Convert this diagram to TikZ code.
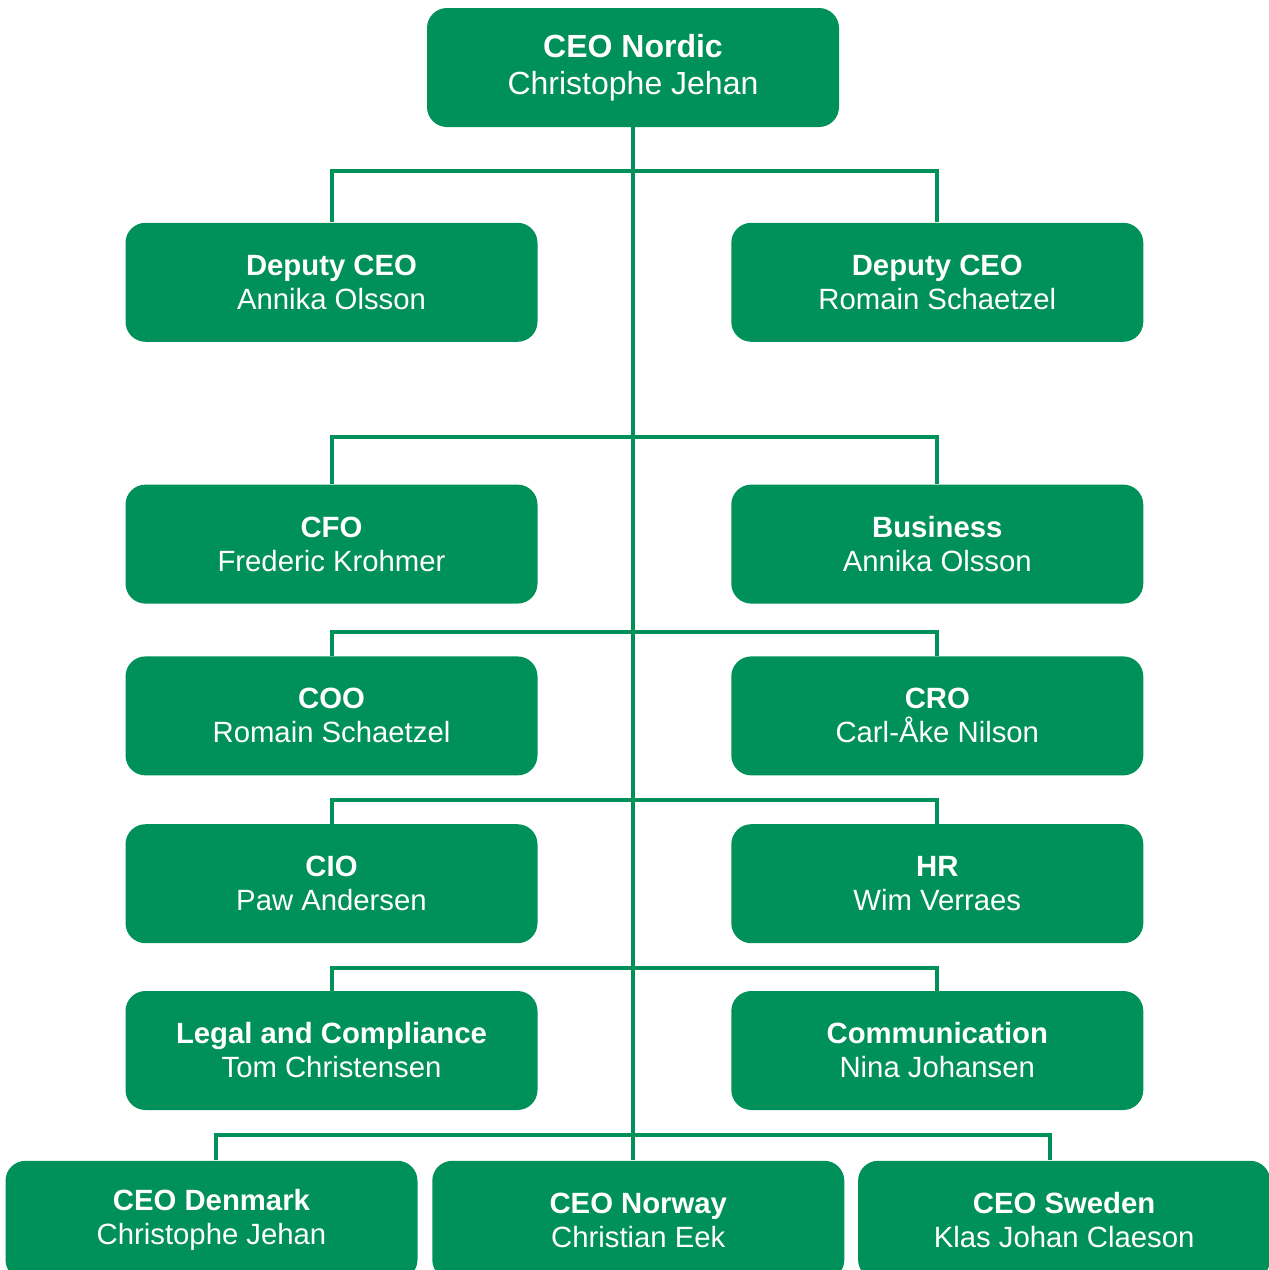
\documentclass[tikz,border=0pt]{standalone}
\usepackage{fontspec}
\setmainfont{Liberation Sans}
\usepackage{xcolor}
\usepackage{tikz}
\usetikzlibrary{positioning}
\definecolor{nordgreen}{RGB}{0,145,90}

\begin{document}
\begin{tikzpicture}[x=0.5pt,y=-0.5pt,
    box/.style={fill=nordgreen,text=white,rounded corners=10pt,minimum width=206pt,minimum height=59.5pt,inner sep=0pt,align=center,font=\fontsize{14.65}{17}\selectfont},
    top/.style={box,font=\fontsize{16}{18.5}\selectfont},
    link/.style={draw=nordgreen,line width=2pt}]
    \useasboundingbox (0,0) rectangle (1269,1270);

    \node[top] at (633,67.5) (ceo) {\textbf{CEO Nordic}\\Christophe Jehan};

    \node[box,below=47.5pt of ceo,xshift=-150.75pt] (dl) {\textbf{Deputy CEO}\\Annika Olsson};
    \node[box,right=96.5pt of dl] (dr) {\textbf{Deputy CEO}\\Romain Schaetzel};

    \node[box,below=71pt of dl] (cfo) {\textbf{CFO}\\Frederic Krohmer};
    \node[box,right=96.5pt of cfo] (bus) {\textbf{Business}\\Annika Olsson};

    \node[box,below=26pt of cfo] (coo) {\textbf{COO}\\Romain Schaetzel};
    \node[box,right=96.5pt of coo] (cro) {\textbf{CRO}\\Carl-Åke Nilson};

    \node[box,below=24pt of coo] (cio) {\textbf{CIO}\\Paw Andersen};
    \node[box,right=96.5pt of cio] (hr) {\textbf{HR}\\Wim Verraes};

    \node[box,below=23.5pt of cio] (legal) {\textbf{Legal and Compliance}\\Tom Christensen};
    \node[box,right=96.5pt of legal] (comm) {\textbf{Communication}\\Nina Johansen};

    \node[box,below=25pt of legal,xshift=-60pt] (dk) {\textbf{CEO Denmark}\\Christophe Jehan};
    \node[box,right=7pt of dk] (no) {\textbf{CEO Norway}\\Christian Eek};
    \node[box,right=6.5pt of no] (se) {\textbf{CEO Sweden}\\Klas Johan Claeson};

    \draw[link] (ceo.south) -- (ceo.south |- no.north);
    \draw[link] (dl.north) -- ++(0,-51) -| (dr.north);
    \draw[link] (cfo.north) -- ++(0,-47) -| (bus.north);
    \draw[link] (coo.north) -- ++(0,-24) -| (cro.north);
    \draw[link] (cio.north) -- ++(0,-24) -| (hr.north);
    \draw[link] (legal.north) -- ++(0,-23) -| (comm.north);
    \draw[link] ([xshift=2pt]dk.north) -- ++(0,-25) -| ([xshift=-7pt]se.north);
\end{tikzpicture}
\end{document}
